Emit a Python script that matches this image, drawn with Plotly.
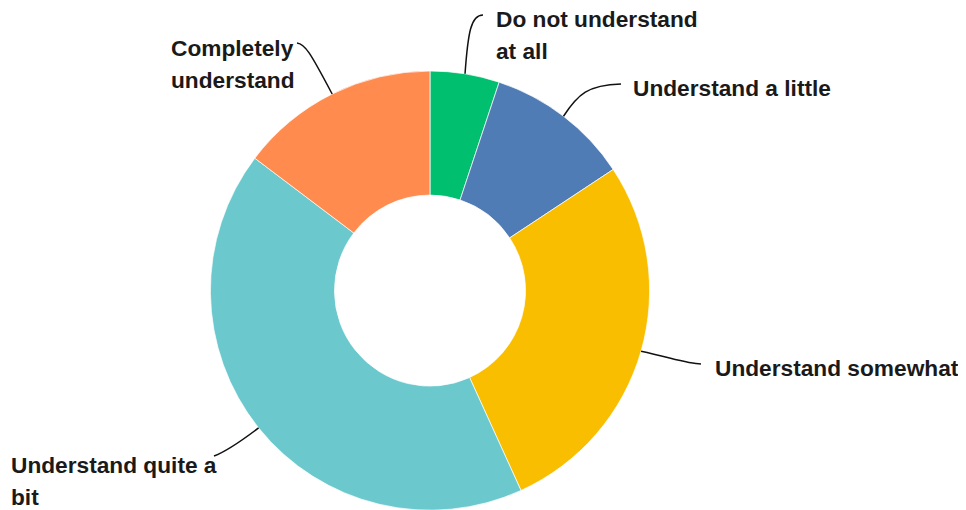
import math
import plotly.graph_objects as go

# ---- data ----
categories = ["Do not understand at all", "Understand a little", "Understand somewhat",
              "Understand quite a bit", "Completely understand"]
values = [5.1, 10.6, 27.5, 42.1, 14.7]
label_lines = [["Do not understand", "at all"], ["Understand a little"], ["Understand somewhat"],
               ["Understand quite a", "bit"], ["Completely", "understand"]]
colors = ["#00BF6F", "#507CB6", "#F9BE00", "#6BC8CD", "#FF8B4F"]

W, H = 966, 510
OFF = 8  # page body margin compensation (screen px -> figure px)
# pie geometry (screen pixels)
CX, CY, R = 430, 290.6, 219.6
HOLE = 0.435
LINE_GAP = 32
FONT_SIZE = 22.7

# label placement (screen pixels): text anchor (left x, top y), leader line control/end points
label_layout = [
    dict(tx=494, ty=4, c1=(468, 32), c2=(471, 15), end=(483, 15)),
    dict(tx=631, ty=73, c1=(578, 94), c2=(588, 85), end=(621, 84)),
    dict(tx=713, ty=353, c1=(672, 358), c2=(688, 364), end=(701, 364)),
    dict(tx=9, ty=450, c1=(240, 442), c2=(225, 452), end=(214, 456)),
    dict(tx=169, ty=33, c1=(310, 52), c2=(305, 44), end=(297, 43)),
]


def px2paper(x, y):
    return (x - OFF) / W, 1 - (y - OFF) / H


fig = go.Figure()
fig.add_trace(go.Pie(
    labels=categories,
    values=values,
    sort=False,
    direction="clockwise",
    rotation=0,
    hole=HOLE,
    textinfo="none",
    marker=dict(colors=colors, line=dict(color="white", width=0.7)),
    domain=dict(x=[(CX - R - OFF) / W, (CX + R - OFF) / W],
                y=[max(0, 1 - (CY + R - OFF) / H), 1 - (CY - R - OFF) / H]),
    showlegend=False,
))

total = sum(values)
cum = 0.0
shapes = []
annotations = []
for v, lines, lay in zip(values, label_lines, label_layout):
    mid = (cum + v / 2) / total * 2 * math.pi
    cum += v
    sx = CX + R * math.sin(mid)
    sy = CY - R * math.cos(mid)
    p0 = px2paper(sx, sy)
    p1 = px2paper(*lay["c1"])
    p2 = px2paper(*lay["c2"])
    p3 = px2paper(*lay["end"])
    path = (f"M {p0[0]:.5f},{p0[1]:.5f} C {p1[0]:.5f},{p1[1]:.5f} "
            f"{p2[0]:.5f},{p2[1]:.5f} {p3[0]:.5f},{p3[1]:.5f}")
    shapes.append(dict(type="path", path=path, xref="paper", yref="paper",
                       line=dict(color="#111111", width=1.5)))
    for i, line in enumerate(lines):
        ax, ay = px2paper(lay["tx"], lay["ty"] + i * LINE_GAP)
        annotations.append(dict(
            text=f"<b>{line}</b>", x=ax, y=ay, xref="paper", yref="paper",
            xanchor="left", yanchor="top", align="left", showarrow=False,
            font=dict(family="Liberation Sans, Arial, sans-serif", size=FONT_SIZE,
                      color="#1a1a1a"),
        ))

fig.update_layout(
    width=W, height=H,
    margin=dict(l=0, r=0, t=0, b=0),
    paper_bgcolor="white",
    plot_bgcolor="white",
    shapes=shapes,
    annotations=annotations,
)

fig.write_html("out.html")
